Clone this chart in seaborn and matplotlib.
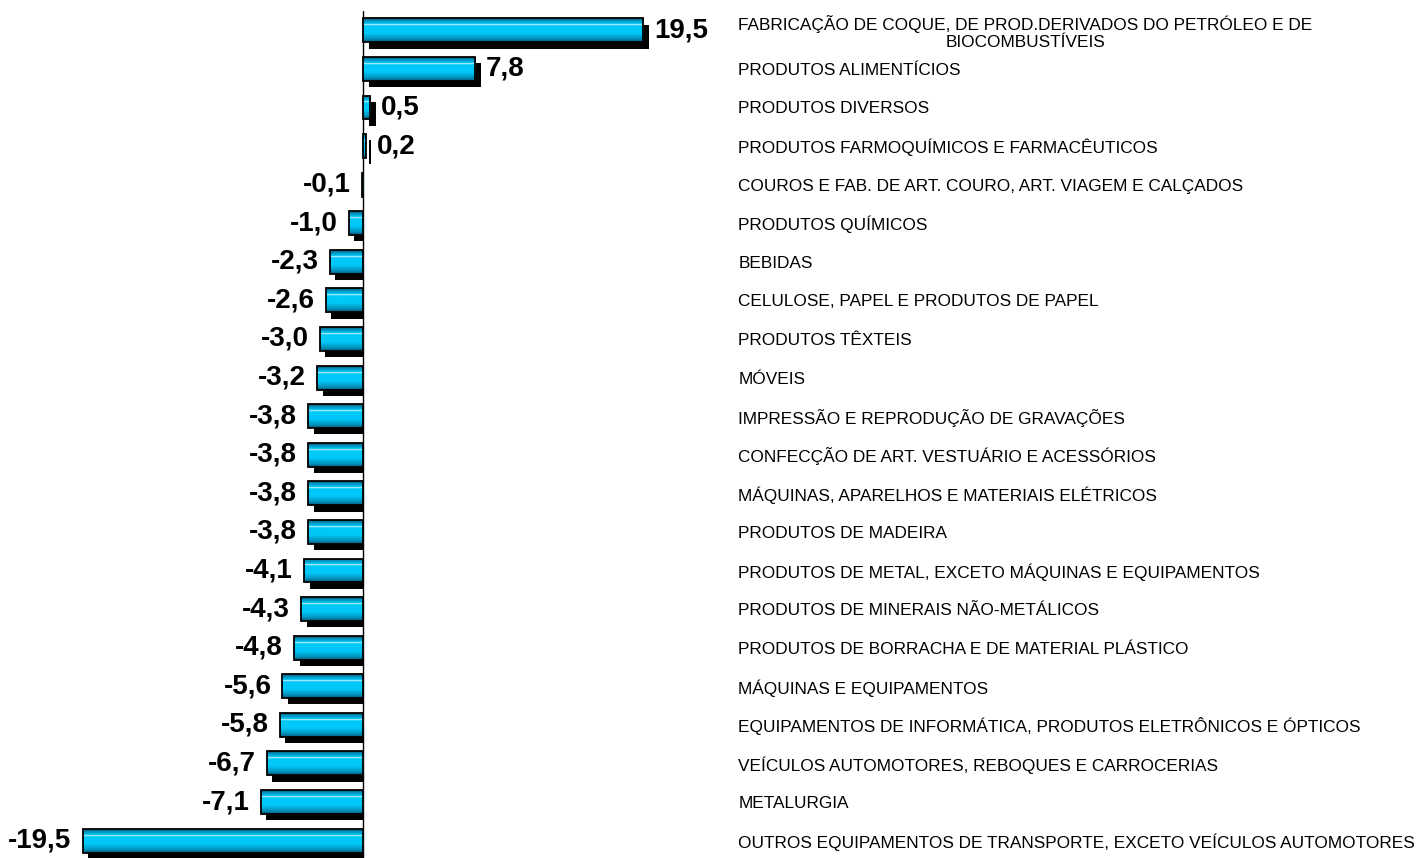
import matplotlib
matplotlib.use('Agg')
import matplotlib.pyplot as plt
import matplotlib.patheffects as pe
import matplotlib.transforms as mtransforms
from matplotlib.patches import Rectangle
from matplotlib.colors import LinearSegmentedColormap
import seaborn as sns
import numpy as np

# dados
setores = [
    'FABRICAÇÃO DE COQUE, DE PROD.DERIVADOS DO PETRÓLEO E DE\nBIOCOMBUSTÍVEIS',
    'PRODUTOS ALIMENTÍCIOS',
    'PRODUTOS DIVERSOS',
    'PRODUTOS FARMOQUÍMICOS E FARMACÊUTICOS',
    'COUROS E FAB. DE ART. COURO, ART. VIAGEM E CALÇADOS',
    'PRODUTOS QUÍMICOS',
    'BEBIDAS',
    'CELULOSE, PAPEL E PRODUTOS DE PAPEL',
    'PRODUTOS TÊXTEIS',
    'MÓVEIS',
    'IMPRESSÃO E REPRODUÇÃO DE GRAVAÇÕES',
    'CONFECÇÃO DE ART. VESTUÁRIO E ACESSÓRIOS',
    'MÁQUINAS, APARELHOS E MATERIAIS ELÉTRICOS',
    'PRODUTOS DE MADEIRA',
    'PRODUTOS DE METAL, EXCETO MÁQUINAS E EQUIPAMENTOS',
    'PRODUTOS DE MINERAIS NÃO-METÁLICOS',
    'PRODUTOS DE BORRACHA E DE MATERIAL PLÁSTICO',
    'MÁQUINAS E EQUIPAMENTOS',
    'EQUIPAMENTOS DE INFORMÁTICA, PRODUTOS ELETRÔNICOS E ÓPTICOS',
    'VEÍCULOS AUTOMOTORES, REBOQUES E CARROCERIAS',
    'METALURGIA',
    'OUTROS EQUIPAMENTOS DE TRANSPORTE, EXCETO VEÍCULOS AUTOMOTORES',
]
variacao = [19.5, 7.8, 0.5, 0.2, -0.1, -1.0, -2.3, -2.6, -3.0, -3.2, -3.8,
            -3.8, -3.8, -3.8, -4.1, -4.3, -4.8, -5.6, -5.8, -6.7, -7.1, -19.5]
rotulos = [f'{v:.1f}'.replace('.', ',') for v in variacao]

sns.set_style('white')
plt.rcParams['font.family'] = ['Liberation Sans', 'DejaVu Sans']
plt.rcParams['text.color'] = 'black'
plt.rcParams['ytick.color'] = 'black'

fig = plt.figure(figsize=(14.27, 8.58), dpi=100)
ax = fig.add_axes([0, 0, 726 / 1427, 1 - 11 / 858])

sns.barplot(x=variacao, y=list(range(len(setores))), orient='h',
            color='#00C8F8', saturation=1, edgecolor='none',
            width=0.62, ax=ax)

# degradê tipo "cilindro" dentro de cada barra
grad = LinearSegmentedColormap.from_list('cil', [
    (0.00, '#005a78'), (0.12, '#0098c4'), (0.24, '#00c8f8'),
    (0.27, '#ffffff'), (0.31, '#00c8f8'), (0.62, '#00c8f8'),
    (0.85, '#0096c0'), (1.00, '#005a78')])
faixa = np.linspace(0, 1, 200).reshape(-1, 1)

# sombra das barras negativas nao passa do eixo
trans = mtransforms.blended_transform_factory(ax.transData, ax.transAxes)
lado_neg = Rectangle((-30, 0), 30, 1, transform=trans, visible=False)
ax.add_patch(lado_neg)

for p in list(ax.patches):
    if p is lado_neg:
        continue
    p.set_path_effects([pe.SimplePatchShadow(offset=(4, -4.5), shadow_rgbFace='black', alpha=1),
                        pe.Normal()])
    x0, y0, w, h = p.get_x(), p.get_y(), p.get_width(), p.get_height()
    if w < 0:
        p.set_clip_path(lado_neg)
    im = ax.imshow(faixa, cmap=grad, aspect='auto', origin='upper',
                   extent=(x0, x0 + w, y0 + h, y0), zorder=p.get_zorder() + 0.1,
                   interpolation='bilinear')
    im.set_clip_path(p)
    ax.add_patch(Rectangle((x0, y0), w, h, fill=False, edgecolor='black',
                           linewidth=1.3, zorder=p.get_zorder() + 0.2))

ax.axvline(0, color='black', lw=1, zorder=0.5)
ax.set_xlim(-25.25, 25.25)
ax.set_ylim(21.45, -0.5)

ax.bar_label(ax.containers[0], labels=rotulos, padding=8, fontsize=20, fontweight='bold')

ax.set_xticks([])
ax.yaxis.tick_right()
ax.set_yticks(range(len(setores)))
ax.set_yticklabels(setores, fontsize=12.4)
ax.tick_params(axis='y', length=0, pad=9)
for t in ax.get_yticklabels():
    t.set_multialignment('center')
    t.set_linespacing(1.15)
for s in ax.spines.values():
    s.set_visible(False)

fig.savefig('out.png', dpi=100)
